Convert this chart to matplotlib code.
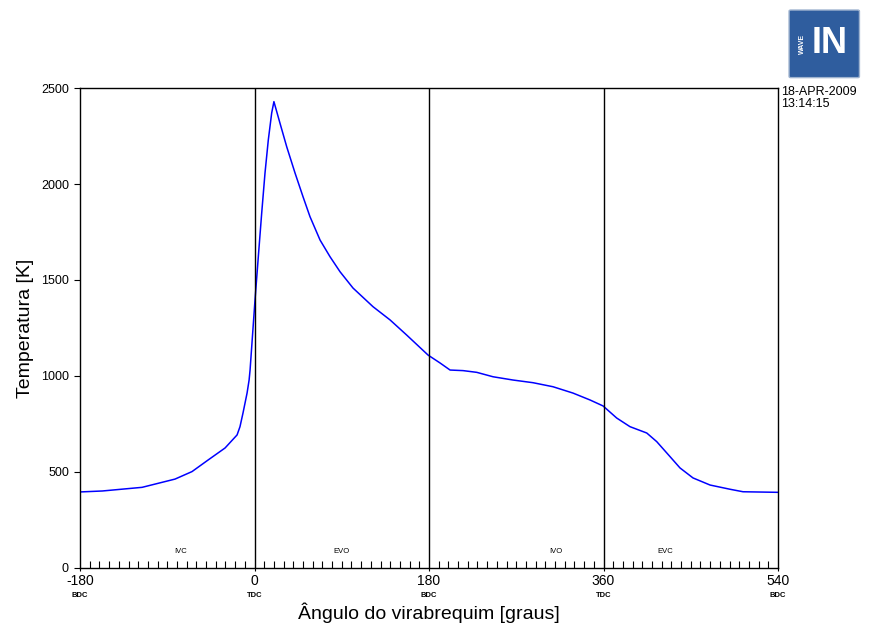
import matplotlib.pyplot as plt
from matplotlib.patches import FancyBboxPatch
import numpy as np

plt.rcParams['font.family'] = ['Liberation Sans', 'DejaVu Sans']
plt.rcParams['axes.unicode_minus'] = False

# crank angle [deg] and in-cylinder temperature [K]
angle = [-180, -157, -116, -82, -64.5, -48, -30.4, -18, -15, -11.9, -7.7, -5.6,
         -4.6, 0.5, 3.9, 7.4, 10.8, 14.2, 17.7, 20, 26.3, 33.2, 41.8, 50, 57.2,
         67.6, 77.9, 88.2, 101.6, 122.2, 139.8, 157, 179, 191.3, 201.7, 215.1,
         229.2, 246, 266.6, 287.3, 307.9, 328.5, 346.1, 359.5, 373.6, 387.3,
         404.6, 414.9, 428.6, 438.9, 452.3, 469.9, 490.5, 503.9, 540]
temp = [396, 401, 420, 463, 502, 562, 625, 693, 736, 807, 911, 979,
        1031, 1396, 1621, 1849, 2057, 2229, 2370, 2429, 2316, 2194, 2057, 1934, 1830,
        1708, 1621, 1543, 1458, 1361, 1292, 1213, 1109, 1068, 1031, 1028,
        1019, 996, 979, 965, 944, 911, 875, 844, 781, 736,
        703, 658, 580, 521, 469, 432, 410, 397, 394]

dead_centres = [-180, 0, 180, 360, 540]
dead_centre_names = ['BDC', 'TDC', 'BDC', 'TDC', 'BDC']
valve_events = ['IVC', 'EVO', 'IVO', 'EVC']
valve_angles = [-76, 90, 311, 424]

fig = plt.figure(figsize=(8.69, 6.26), dpi=100)
ax = fig.add_axes([0.0921, 0.0927, 0.8032, 0.7667])

ax.plot(angle, temp, color='#0000ff', linewidth=1.1)
for a in dead_centres[1:-1]:
    ax.axvline(a, color='black', linewidth=1.0)

ax.set_xlim(-180, 540)
ax.set_ylim(0, 2500)
ax.set_yticks(np.arange(0, 2501, 500))
ax.set_xticks(dead_centres)
ax.set_xticks(np.arange(-180, 541, 10), minor=True)
ax.tick_params(axis='y', direction='out', length=4, width=0.8, labelsize=9, pad=4)
ax.tick_params(axis='x', which='major', direction='out', length=2, width=0.8,
               labelsize=10, pad=2.5)
ax.tick_params(axis='x', which='minor', direction='in', length=5, width=0.8)
for s in ax.spines.values():
    s.set_linewidth(1.0)

# dead centre names under the angle labels
for a, name in zip(dead_centres, dead_centre_names):
    ax.text(a, -0.05, name, transform=ax.get_xaxis_transform(), ha='center',
            va='top', fontsize=5.5, fontweight='bold')

# valve timing events
for name, a in zip(valve_events, valve_angles):
    ax.text(a, 0.035, name, transform=ax.get_xaxis_transform(), ha='center',
            va='center', fontsize=5.5)

ax.set_xlabel('Ângulo do virabrequim [graus]', fontsize=14, labelpad=10)
ax.set_ylabel('Temperatura [K]', fontsize=14, labelpad=5)

fig.text(0.899, 0.862, '18-APR-2009\n13:14:15', ha='left', va='top',
         fontsize=9, linespacing=1.0)

# logo box
logo = FancyBboxPatch((0.910, 0.878), 0.077, 0.104, boxstyle='round,pad=0.002',
                      transform=fig.transFigure, facecolor='#2f5d9e',
                      edgecolor='#9fb3cf', linewidth=1.0)
fig.patches.append(logo)
fig.text(0.924, 0.930, 'WAVE', rotation=90, ha='center', va='center',
         fontsize=5, color='white', fontweight='bold')
fig.text(0.955, 0.930, 'IN', ha='center', va='center', fontsize=26,
         color='white', fontweight='bold')

fig.savefig('out.png', dpi=100)
